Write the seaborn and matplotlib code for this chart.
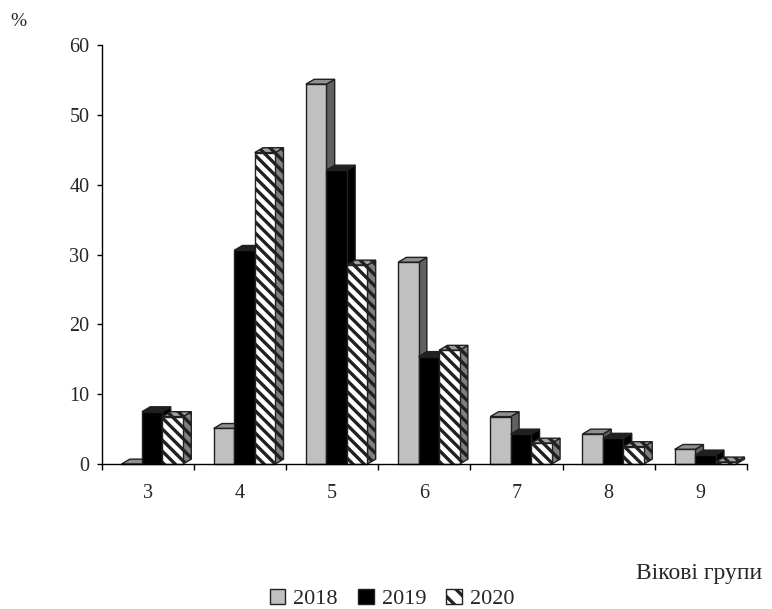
import numpy as np
import pandas as pd
import seaborn as sns
import matplotlib.pyplot as plt
from matplotlib.patches import Polygon, Patch

groups = ['3', '4', '5', '6', '7', '8', '9']
years = ['2018', '2019', '2020']
v2018 = [0.0, 5.1, 54.4, 28.9, 6.8, 4.3, 2.1]
v2019 = [7.5, 30.6, 42.1, 15.4, 4.3, 3.7, 1.3]
v2020 = [6.8, 44.6, 28.5, 16.3, 3.0, 2.5, 0.3]
yticks = [0, 10, 20, 30, 40, 50, 60]

df = pd.DataFrame({
    'group': groups * 3,
    'year': [years[0]] * 7 + [years[1]] * 7 + [years[2]] * 7,
    'value': v2018 + v2019 + v2020,
})

sns.set_theme(style='white')
plt.rcParams['font.family'] = ['Liberation Serif', 'DejaVu Serif']
plt.rcParams['hatch.linewidth'] = 2.4
plt.rcParams['hatch.color'] = 'black'

front = {'2018': '#c0c0c0', '2019': '#000000', '2020': '#ffffff'}
side = ['#606060', '#000000', '#808080']
top = ['#909090', '#202020', '#a0a0a0']
hatches = [None, None, '\\\\\\']

fig = plt.figure(figsize=(7.72, 6.09), dpi=100)
ax = fig.add_axes([0.1315, 0.238, 0.836, 0.688])
sns.barplot(data=df, x='group', y='value', hue='year', palette=front,
            width=0.667, saturation=1, ax=ax, legend=False,
            edgecolor='#202020', linewidth=1)

shift = 0.05
dx, dy = 0.09, 0.7
for i, cont in enumerate(ax.containers):
    for bar in cont:
        x0 = bar.get_x() + shift
        bar.set_x(x0)
        w = bar.get_width()
        h = bar.get_height()
        bar.set_zorder(3 + 2 * i)
        if hatches[i]:
            bar.set_hatch(hatches[i])
        bar.set_clip_on(False)
        sp = Polygon([(x0 + w, 0), (x0 + w + dx, dy), (x0 + w + dx, h + dy), (x0 + w, h)],
                     closed=True, facecolor=side[i], edgecolor='#202020', linewidth=1,
                     hatch=hatches[i], zorder=2 + 2 * i, clip_on=False)
        tp = Polygon([(x0, h), (x0 + dx, h + dy), (x0 + w + dx, h + dy), (x0 + w, h)],
                     closed=True, facecolor=top[i], edgecolor='#202020', linewidth=1,
                     hatch=hatches[i], zorder=2 + 2 * i, clip_on=False)
        ax.add_patch(sp)
        ax.add_patch(tp)

ax.set_xlim(-0.5, 6.5)
ax.set_ylim(0, 60)
ax.set_yticks(yticks)
ax.set_xlabel('')
ax.set_ylabel('')
for s in ['top', 'right']:
    ax.spines[s].set_visible(False)
for s in ['left', 'bottom']:
    ax.spines[s].set_color('black')
    ax.spines[s].set_linewidth(1)
ax.spines['bottom'].set_zorder(20)

ax.tick_params(axis='y', which='major', direction='out', length=3.8, width=1,
               color='black', pad=5, labelsize=14.5, left=True)
ax.tick_params(axis='x', which='major', length=0, pad=14, labelsize=14.5)
ax.set_xticks(np.arange(-0.5, 7, 1), minor=True)
ax.tick_params(axis='x', which='minor', direction='out', length=4.3, width=1,
               color='black', bottom=True)

fig.text(18 / 772, 1 - 21 / 609, '%', fontsize=14, ha='center', va='center')
fig.text(699 / 772, 1 - 574 / 609, 'Вікові групи', fontsize=17, ha='center', va='center')

handles = [Patch(facecolor=front['2018'], edgecolor='#202020', linewidth=1),
           Patch(facecolor=front['2019'], edgecolor='#202020', linewidth=1),
           Patch(facecolor=front['2020'], edgecolor='#202020', linewidth=1, hatch='\\\\')]
fig.legend(handles, years, loc='center', bbox_to_anchor=(392 / 772, 1 - 599 / 609),
           ncol=3, frameon=False, fontsize=16, handlelength=0.7, handleheight=0.7,
           handletextpad=0.36, columnspacing=0.9, borderpad=0, borderaxespad=0)

fig.savefig('out.png', dpi=100)
